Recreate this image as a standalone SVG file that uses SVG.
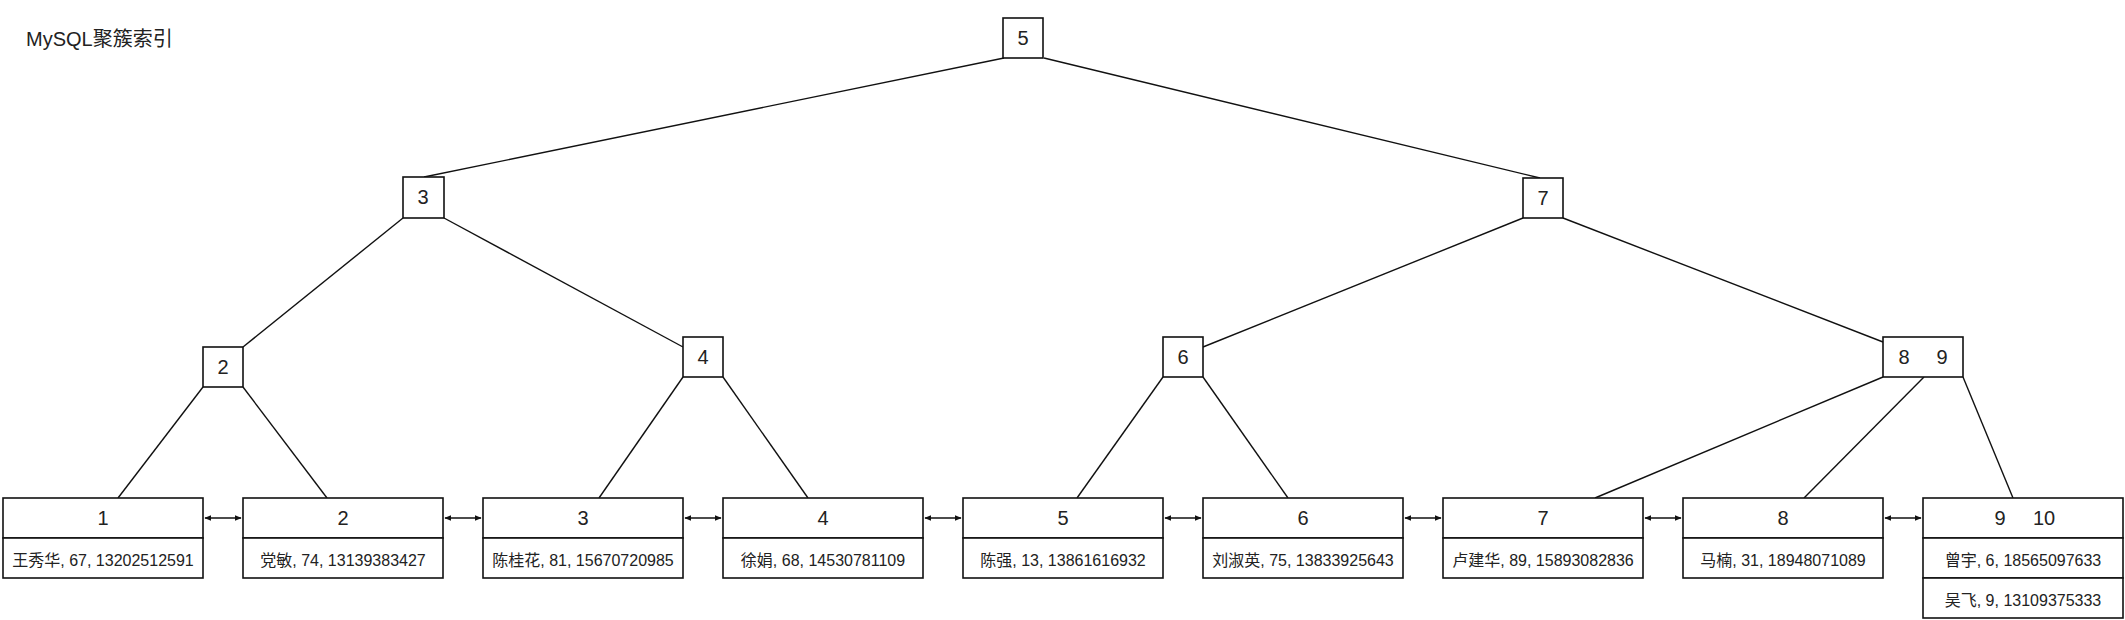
<svg xmlns="http://www.w3.org/2000/svg" width="2125" height="620" viewBox="0 0 2125 620">
<style>
text{font-family:"Liberation Sans","Noto Sans CJK SC",sans-serif;fill:#222;text-anchor:middle}
.t{font-size:20px}
.s{font-size:16px}
.box{fill:#fff;stroke:#111;stroke-width:1.6}
.e{stroke:#111;stroke-width:1.4;fill:none}
.a{stroke:#111;stroke-width:1.4;fill:none;marker-start:url(#ah);marker-end:url(#ah)}
</style>
<defs>
<marker id="ah" viewBox="0 0 10 10" refX="9" refY="5" markerWidth="7" markerHeight="7" orient="auto-start-reverse" markerUnits="userSpaceOnUse">
<path d="M0,1 L10,5 L0,9 Z" fill="#111"/>
</marker>
</defs>
<rect width="2125" height="620" fill="#fff"/>
<text x="26" y="46" style="font-size:20px;text-anchor:start">MySQL聚簇索引</text>

<g id="edges">
<line class="e" x1="1004" y1="58" x2="424" y2="177"/>
<line class="e" x1="1044" y1="58" x2="1540" y2="178"/>
<line class="e" x1="403" y1="218" x2="243" y2="347"/>
<line class="e" x1="444" y1="218" x2="683" y2="347"/>
<line class="e" x1="1523" y1="218" x2="1203" y2="347"/>
<line class="e" x1="1563" y1="218" x2="1883" y2="342"/>
<line class="e" x1="203" y1="387" x2="118" y2="498"/>
<line class="e" x1="243" y1="387" x2="327" y2="498"/>
<line class="e" x1="683" y1="377" x2="599" y2="498"/>
<line class="e" x1="723" y1="377" x2="808" y2="498"/>
<line class="e" x1="1163" y1="377" x2="1077" y2="498"/>
<line class="e" x1="1203" y1="377" x2="1288" y2="498"/>
<line class="e" x1="1883" y1="377" x2="1595" y2="498"/>
<line class="e" x1="1924" y1="377" x2="1804" y2="498"/>
<line class="e" x1="1963" y1="377" x2="2013" y2="498"/>
<line class="a" x1="205" y1="518" x2="241" y2="518"/>
<line class="a" x1="445" y1="518" x2="481" y2="518"/>
<line class="a" x1="685" y1="518" x2="721" y2="518"/>
<line class="a" x1="925" y1="518" x2="961" y2="518"/>
<line class="a" x1="1165" y1="518" x2="1201" y2="518"/>
<line class="a" x1="1405" y1="518" x2="1441" y2="518"/>
<line class="a" x1="1645" y1="518" x2="1681" y2="518"/>
<line class="a" x1="1885" y1="518" x2="1921" y2="518"/>
</g>

<g id="n5"><rect class="box" x="1003" y="18" width="40" height="40"/><text class="t" x="1023" y="45">5</text></g>
<g id="n3"><rect class="box" x="403" y="177" width="41" height="41"/><text class="t" x="423" y="204">3</text></g>
<g id="n7"><rect class="box" x="1523" y="178" width="40" height="40"/><text class="t" x="1543" y="205">7</text></g>
<g id="n2"><rect class="box" x="203" y="347" width="40" height="40"/><text class="t" x="223" y="374">2</text></g>
<g id="n4"><rect class="box" x="683" y="337" width="40" height="40"/><text class="t" x="703" y="364">4</text></g>
<g id="n6"><rect class="box" x="1163" y="337" width="40" height="40"/><text class="t" x="1183" y="364">6</text></g>
<g id="n89"><rect class="box" x="1883" y="337" width="80" height="40"/><text class="t" x="1904" y="364">8</text><text class="t" x="1942" y="364">9</text></g>

<g id="leaf1"><rect class="box" x="3" y="498" width="200" height="40"/><rect class="box" x="3" y="538" width="200" height="40"/><text class="t" x="103" y="525">1</text><text class="s" x="103" y="566">王秀华, 67, 13202512591</text></g>
<g id="leaf2"><rect class="box" x="243" y="498" width="200" height="40"/><rect class="box" x="243" y="538" width="200" height="40"/><text class="t" x="343" y="525">2</text><text class="s" x="343" y="566">党敏, 74, 13139383427</text></g>
<g id="leaf3"><rect class="box" x="483" y="498" width="200" height="40"/><rect class="box" x="483" y="538" width="200" height="40"/><text class="t" x="583" y="525">3</text><text class="s" x="583" y="566">陈桂花, 81, 15670720985</text></g>
<g id="leaf4"><rect class="box" x="723" y="498" width="200" height="40"/><rect class="box" x="723" y="538" width="200" height="40"/><text class="t" x="823" y="525">4</text><text class="s" x="823" y="566">徐娟, 68, 14530781109</text></g>
<g id="leaf5"><rect class="box" x="963" y="498" width="200" height="40"/><rect class="box" x="963" y="538" width="200" height="40"/><text class="t" x="1063" y="525">5</text><text class="s" x="1063" y="566">陈强, 13, 13861616932</text></g>
<g id="leaf6"><rect class="box" x="1203" y="498" width="200" height="40"/><rect class="box" x="1203" y="538" width="200" height="40"/><text class="t" x="1303" y="525">6</text><text class="s" x="1303" y="566">刘淑英, 75, 13833925643</text></g>
<g id="leaf7"><rect class="box" x="1443" y="498" width="200" height="40"/><rect class="box" x="1443" y="538" width="200" height="40"/><text class="t" x="1543" y="525">7</text><text class="s" x="1543" y="566">卢建华, 89, 15893082836</text></g>
<g id="leaf8"><rect class="box" x="1683" y="498" width="200" height="40"/><rect class="box" x="1683" y="538" width="200" height="40"/><text class="t" x="1783" y="525">8</text><text class="s" x="1783" y="566">马楠, 31, 18948071089</text></g>
<g id="leaf9"><rect class="box" x="1923" y="498" width="200" height="40"/><rect class="box" x="1923" y="538" width="200" height="40"/><rect class="box" x="1923" y="578" width="200" height="40"/><text class="t" x="2000" y="525">9</text><text class="t" x="2044" y="525">10</text><text class="s" x="2023" y="566">曾宇, 6, 18565097633</text><text class="s" x="2023" y="606">吴飞, 9, 13109375333</text></g>
</svg>
